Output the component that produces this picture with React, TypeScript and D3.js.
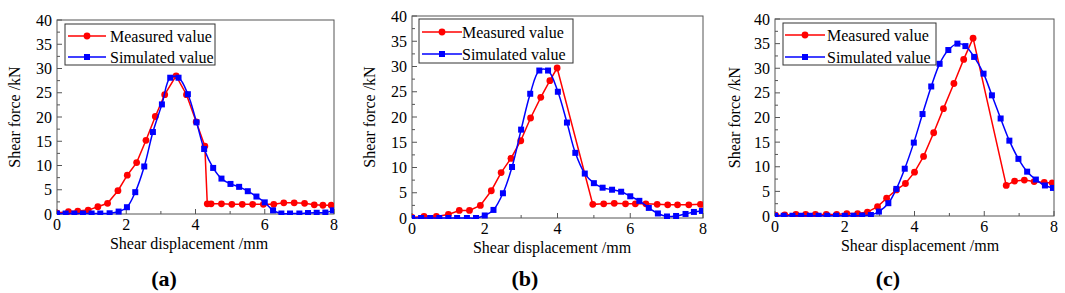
import React from "react";
import * as d3 from "d3";

// ---------- data ----------
const xTicks = [0, 2, 4, 6, 8];
const xMinorTicks = [1, 3, 5, 7];
const yTicks = [0, 5, 10, 15, 20, 25, 30, 35, 40];
const yMinorTicks = [2.5, 7.5, 12.5, 17.5, 22.5, 27.5, 32.5, 37.5];
const seriesNames = ["Measured value", "Simulated value"];
const panelLabels = ["(a)", "(b)", "(c)"];
const xTitle = "Shear displacement /mm";
const yTitle = "Shear force /kN";

const measuredA: [number, number][] = [
  [0, 0.2], [0.33, 0.5], [0.6, 0.6], [0.9, 0.8], [1.18, 1.5], [1.46, 2.2], [1.76, 4.8],
  [2.03, 8.0], [2.3, 10.6], [2.57, 15.2], [2.84, 20.1], [3.11, 24.6], [3.44, 28.5],
  [3.74, 24.6], [4.02, 19.0], [4.27, 14.0], [4.34, 2.1], [4.45, 2.1], [4.75, 2.1],
  [5.05, 2.0], [5.35, 2.0], [5.65, 2.0], [5.96, 2.0], [6.26, 2.0], [6.55, 2.3],
  [6.85, 2.3], [7.15, 2.2], [7.43, 1.9], [7.68, 1.8], [7.92, 1.8],
];
const simulatedA: [number, number][] = [
  [0, 0.1], [0.25, 0.1], [0.5, 0.1], [0.75, 0.1], [1.0, 0.1], [1.25, 0.1], [1.52, 0.15],
  [1.78, 0.5], [2.02, 1.4], [2.26, 4.5], [2.52, 9.8], [2.77, 16.9], [3.03, 22.6],
  [3.27, 28.1], [3.51, 28.1], [3.78, 24.7], [4.03, 18.9], [4.25, 13.4], [4.51, 9.5],
  [4.75, 7.3], [5.01, 6.2], [5.26, 5.6], [5.51, 4.7], [5.76, 3.6], [6.0, 2.4],
  [6.24, 0.75], [6.48, 0.1], [6.73, 0.1], [7.0, 0.1], [7.25, 0.2], [7.5, 0.25],
  [7.75, 0.3], [7.97, 0.75],
];
const measuredB: [number, number][] = [
  [0, 0.1], [0.33, 0.3], [0.67, 0.3], [1.0, 0.7], [1.3, 1.5], [1.58, 1.5], [1.88, 2.5],
  [2.18, 5.4], [2.45, 9.0], [2.72, 11.8], [2.99, 15.3], [3.26, 19.8], [3.54, 23.9],
  [3.79, 27.2], [3.99, 29.7], [4.97, 2.7], [5.27, 2.8], [5.56, 2.9], [5.87, 2.8],
  [6.14, 2.8], [6.43, 2.8], [6.74, 2.7], [7.03, 2.6], [7.3, 2.6], [7.61, 2.6], [7.93, 2.7],
];
const simulatedB: [number, number][] = [
  [0, 0.0], [0.25, 0.0], [0.5, 0.0], [0.75, 0.0], [1.0, 0.0], [1.24, 0.0], [1.51, 0.0],
  [1.76, 0.0], [2.0, 0.5], [2.24, 1.6], [2.5, 4.9], [2.75, 10.1], [3.0, 17.5],
  [3.25, 24.6], [3.5, 29.2], [3.74, 29.2], [4.01, 25.0], [4.26, 18.9], [4.49, 12.9],
  [4.75, 8.8], [5.0, 6.9], [5.24, 6.0], [5.5, 5.6], [5.75, 5.2], [6.0, 4.3], [6.25, 3.4],
  [6.51, 2.0], [6.76, 0.9], [7.01, 0.3], [7.26, 0.4], [7.52, 0.8], [7.75, 1.2], [7.97, 1.4],
];
const measuredC: [number, number][] = [
  [0.02, 0.1], [0.28, 0.2], [0.6, 0.3], [0.88, 0.3], [1.16, 0.3], [1.47, 0.3], [1.77, 0.3],
  [2.06, 0.5], [2.37, 0.5], [2.65, 0.8], [2.94, 1.9], [3.2, 3.6], [3.48, 5.3], [3.74, 6.6],
  [4.0, 8.9], [4.26, 12.1], [4.55, 16.9], [4.83, 21.8], [5.13, 26.9], [5.41, 31.8],
  [5.68, 36.1], [6.63, 6.2], [6.87, 7.1], [7.15, 7.3], [7.43, 7.0], [7.72, 6.8], [7.95, 6.7],
];
const simulatedC: [number, number][] = [
  [0, 0.05], [0.25, 0.05], [0.5, 0.05], [0.75, 0.05], [1.0, 0.05], [1.25, 0.05], [1.5, 0.05],
  [1.75, 0.05], [2.0, 0.05], [2.25, 0.05], [2.5, 0.1], [2.75, 0.2], [2.98, 0.9], [3.25, 2.6],
  [3.48, 5.5], [3.72, 9.6], [3.98, 14.9], [4.23, 20.7], [4.48, 26.3], [4.72, 30.9],
  [4.97, 33.7], [5.23, 35.0], [5.46, 34.5], [5.71, 32.3], [5.98, 28.9], [6.22, 24.5],
  [6.47, 19.8], [6.72, 15.3], [6.98, 11.6], [7.23, 9.0], [7.48, 7.4], [7.74, 6.2], [7.97, 5.7],
];

// ---------- layout ----------
const panels = [
  {
    measured: measuredA, simulated: simulatedA,
    left: 57, right: 334, top: 20, bottom: 214,
    yTitleX: 15, xTitleX: 189, xTitleY: 249, labelX: 164, labelY: 286,
    legend: { x: 65, y: 24, w: 150, h: 41, lineX1: 68, lineX2: 106, textX: 110, y1: 36, y2: 57 },
  },
  {
    measured: measuredB, simulated: simulatedB,
    left: 412, right: 703, top: 16, bottom: 218,
    yTitleX: 370, xTitleX: 552, xTitleY: 253, labelX: 525, labelY: 286,
    legend: { x: 419, y: 19, w: 154, h: 44, lineX1: 422, lineX2: 462, textX: 462, y1: 32, y2: 54 },
  },
  {
    measured: measuredC, simulated: simulatedC,
    left: 775, right: 1054, top: 19, bottom: 216,
    yTitleX: 735, xTitleX: 920, xTitleY: 251, labelX: 888, labelY: 286,
    legend: { x: 783, y: 23, w: 153, h: 42, lineX1: 785, lineX2: 825, textX: 827, y1: 35, y2: 57 },
  },
];

const RED = "#ff0000";
const BLUE = "#0000ff";
const AXIS = "#555555";
const FONT = "Liberation Serif, Times New Roman, serif";
const txt = { fontFamily: FONT } as React.CSSProperties;

function Panel({ p, idx }: { p: (typeof panels)[number]; idx: number }) {
  const x = d3.scaleLinear().domain([0, 8]).range([p.left, p.right]);
  const y = d3.scaleLinear().domain([0, 40]).range([p.bottom, p.top]);
  const redLine = d3.line<[number, number]>().x((d) => x(d[0])).y((d) => y(d[1]));
  const blueLine = d3
    .line<[number, number]>()
    .x((d) => x(d[0]))
    .y((d) => y(d[1]))
    .curve(d3.curveCatmullRom.alpha(0.5));
  const clipId = `clip-${idx}`;
  const lg = p.legend;
  return (
    <g>
      <defs>
        <clipPath id={clipId}>
          <rect x={p.left} y={p.top} width={p.right - p.left} height={p.bottom - p.top + 1} />
        </clipPath>
      </defs>
      <rect x={p.left} y={p.top} width={p.right - p.left} height={p.bottom - p.top} fill="none" stroke={AXIS} strokeWidth={1} />
      {xTicks.map((t) => (
        <g key={"xt" + t}>
          <line x1={x(t)} x2={x(t)} y1={p.bottom} y2={p.bottom - 5} stroke={AXIS} />
          <text x={x(t)} y={p.bottom + 16} textAnchor="middle" fontSize={16} style={txt}>{t}</text>
        </g>
      ))}
      {xMinorTicks.map((t) => (
        <line key={"xm" + t} x1={x(t)} x2={x(t)} y1={p.bottom} y2={p.bottom - 3} stroke={AXIS} />
      ))}
      {yTicks.map((t) => (
        <g key={"yt" + t}>
          <line x1={p.left} x2={p.left + 5} y1={y(t)} y2={y(t)} stroke={AXIS} />
          <text x={p.left - 5} y={y(t) + 5.5} textAnchor="end" fontSize={16} style={txt}>{t}</text>
        </g>
      ))}
      {yMinorTicks.map((t) => (
        <line key={"ym" + t} x1={p.left} x2={p.left + 3} y1={y(t)} y2={y(t)} stroke={AXIS} />
      ))}
      <text
        transform={`translate(${p.yTitleX + 5},${(p.top + p.bottom) / 2}) rotate(-90)`}
        textAnchor="middle" fontSize={16} style={txt}
      >{yTitle}</text>
      <text x={p.xTitleX} y={p.xTitleY} textAnchor="middle" fontSize={16} style={txt}>{xTitle}</text>
      <text x={p.labelX} y={p.labelY} textAnchor="middle" fontSize={22} fontWeight="bold" style={txt}>{panelLabels[idx]}</text>
      <g clipPath={`url(#${clipId})`}>
        <path d={redLine(p.measured) ?? ""} fill="none" stroke={RED} strokeWidth={1.5} />
        {p.measured.map((d, i) => (
          <circle key={"m" + i} cx={x(d[0])} cy={y(d[1])} r={3.4} fill={RED} />
        ))}
        <path d={blueLine(p.simulated) ?? ""} fill="none" stroke={BLUE} strokeWidth={1.5} />
        {p.simulated.map((d, i) => (
          <rect key={"s" + i} x={x(d[0]) - 3} y={y(d[1]) - 3} width={6} height={6} fill={BLUE} />
        ))}
      </g>
      <rect x={lg.x} y={lg.y} width={lg.w} height={lg.h} fill="white" stroke="#333" strokeWidth={1} />
      <line x1={lg.lineX1} x2={lg.lineX2} y1={lg.y1} y2={lg.y1} stroke={RED} strokeWidth={1.5} />
      <circle cx={(lg.lineX1 + lg.lineX2) / 2} cy={lg.y1} r={3.4} fill={RED} />
      <text x={lg.textX} y={lg.y1 + 5.5} fontSize={16} style={txt}>{seriesNames[0]}</text>
      <line x1={lg.lineX1} x2={lg.lineX2} y1={lg.y2} y2={lg.y2} stroke={BLUE} strokeWidth={1.5} />
      <rect x={(lg.lineX1 + lg.lineX2) / 2 - 3} y={lg.y2 - 3} width={6} height={6} fill={BLUE} />
      <text x={lg.textX} y={lg.y2 + 5.5} fontSize={16} style={txt}>{seriesNames[1]}</text>
    </g>
  );
}

export default function App() {
  return (
    <svg
      width={1065}
      height={293}
      style={{ position: "absolute", left: 0, top: 0, background: "white" }}
    >
      <rect x={0} y={0} width={1065} height={293} fill="white" />
      {panels.map((p, i) => (
        <Panel key={i} p={p} idx={i} />
      ))}
    </svg>
  );
}
